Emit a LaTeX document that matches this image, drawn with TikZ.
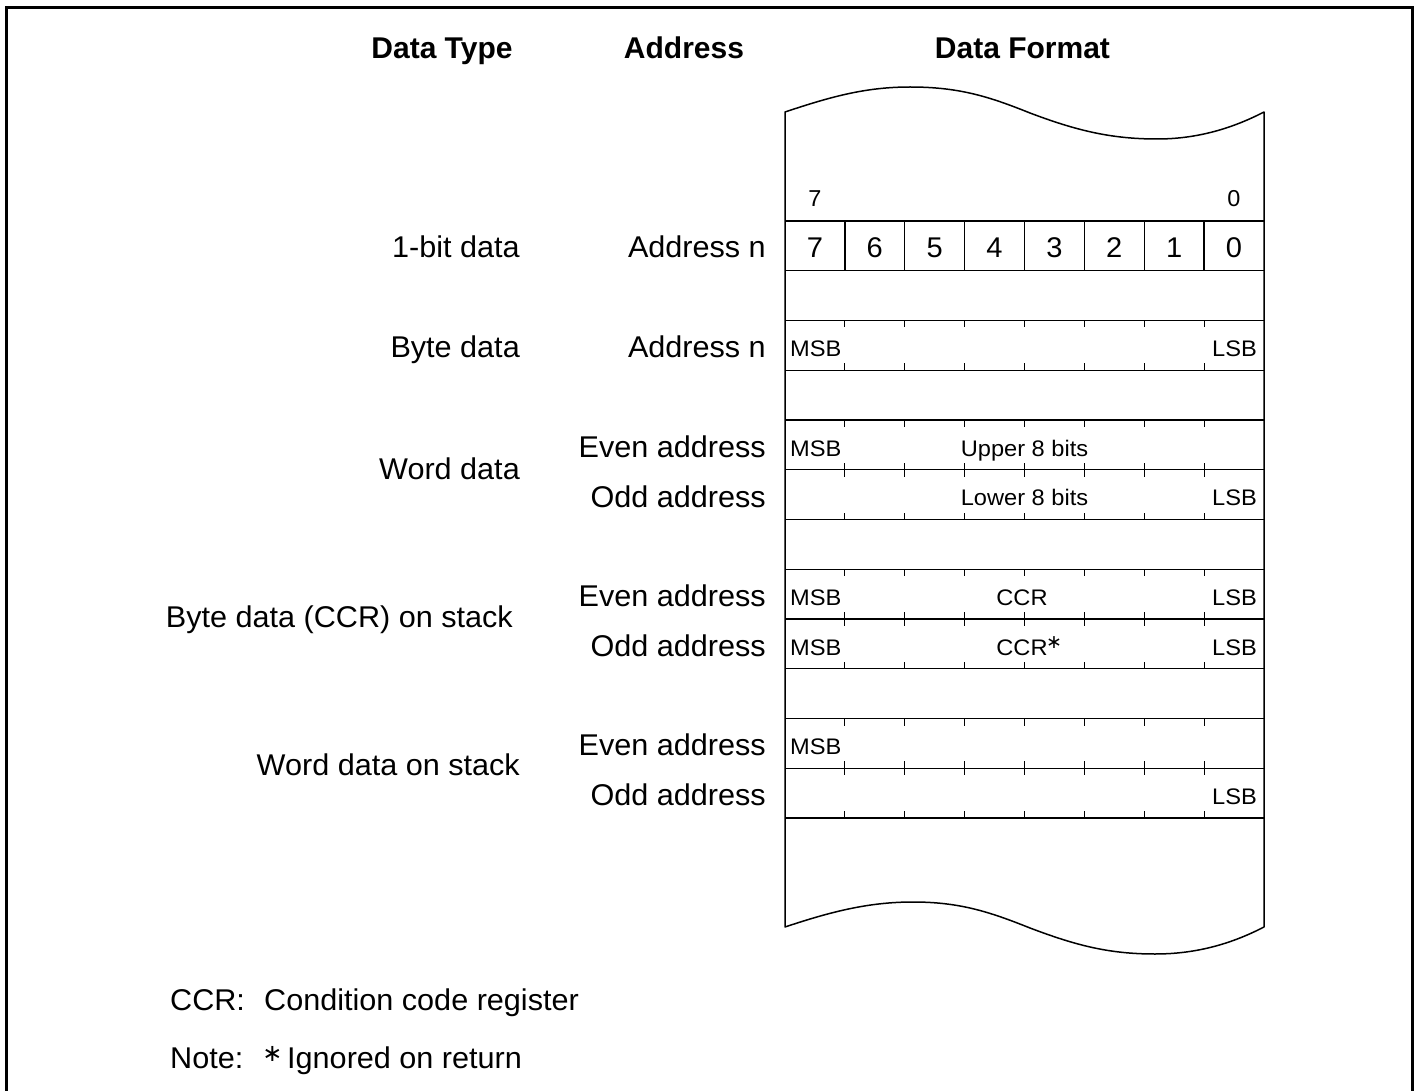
\documentclass[tikz,border=0pt]{standalone}
\usepackage{fontspec}
\setmainfont{Liberation Sans}
\newfontfamily\labfont[FakeStretch=1.02]{Liberation Sans}
\newfontfamily\smfont[FakeStretch=1.05]{Liberation Sans}
\newfontfamily\symfont{DejaVu Sans}
\begin{document}
\begin{tikzpicture}[x=1pt,y=1pt,
  hdr/.style={font=\bfseries\fontsize{30}{32}\selectfont, inner sep=0pt, anchor=base},
  lab/.style={font=\labfont\fontsize{30}{32}\selectfont, inner sep=0pt, anchor=base east},
  note/.style={font=\labfont\fontsize{30}{32}\selectfont, inner sep=0pt, anchor=base west},
  sm/.style={font=\smfont\fontsize{22.5}{24}\selectfont, inner sep=0pt},
  digit/.style={font=\labfont\fontsize{28.5}{30}\selectfont, inner sep=0pt, anchor=base},
  topdigit/.style={font=\labfont\fontsize{23}{25}\selectfont, inner sep=0pt, anchor=base},
  star/.style={font=\symfont, inner sep=0pt, anchor=center},
  frame/.style={line width=1.5pt, line join=round},
  grid/.style={line width=1.3pt},
  tickmark/.style={line width=1pt}]
\useasboundingbox (0,0) rectangle (1417,-1091);
% outer border (open at the bottom edge of the picture)
\begin{scope}
\clip (0,0) rectangle (1417,-1091);
\draw[line width=3pt] (6.5,-7.5) rectangle (1412.5,-1120);
\end{scope}

% headings
\node[hdr] (hType) at (442,-59) {Data Type};
\node[hdr] (hAddr) at (684,-59) {Address};
\node[hdr] (hFmt) at (1022.5,-59) {Data Format};

% memory strip with wavy ends
\draw[frame] (785,-927) -- (785,-112)
  .. controls (830,-97) and (865,-87) .. (910,-87)
  .. controls (960,-87) and (990,-97) .. (1030,-113)
  .. controls (1075,-130) and (1110,-139) .. (1157,-139)
  .. controls (1198,-139) and (1233,-128) .. (1264,-112)
  -- (1264,-927)
  .. controls (1233,-943) and (1198,-954) .. (1155,-954)
  .. controls (1108,-954) and (1075,-945) .. (1030,-928)
  .. controls (990,-912) and (960,-902) .. (913,-902)
  .. controls (868,-902) and (830,-912) .. (785,-927) -- cycle;

% row lines
\foreach \yy in {221,270.75,320.5,370.25,420,469.75,519.5,569.25,619,668.75,718.5,768.25,818}
  \draw[grid] (785,-\yy) -- (1264,-\yy);

% bit cells
\foreach \i in {1,...,7}
  \draw[grid] ({785+59.875*\i},-221) -- ({785+59.875*\i},-270.75);
\foreach \d [count=\i from 0] in {7,6,5,4,3,2,1,0}
  \node[digit] (bit\d) at ({785+59.875*(\i+0.5)},-258) {\d};
\node[topdigit] (msbnum) at (815,-207) {7};
\node[topdigit] (lsbnum) at (1234,-207) {0};

% tick marks in data rows
\foreach \top/\bot in {320.5/370.25,420/469.75,469.75/519.5,569.25/619,619/668.75,718.5/768.25,768.25/818}
  \foreach \i in {1,...,7}{
    \draw[tickmark] ({785+59.875*\i},-\top) -- ++(0,-7);
    \draw[tickmark] ({785+59.875*\i},-\bot) -- ++(0,7);
  }

% texts inside rows
\node[sm,anchor=base west] (m1) at (790,-356.7) {MSB};
\node[sm,anchor=base east] (l1) at (1257,-356.7) {LSB};
\node[sm,anchor=base west] (m2) at (790,-456.2) {MSB};
\node[sm,anchor=base] (up) at (1024.5,-456.2) {Upper 8 bits};
\node[sm,anchor=base] (lo) at (1024.5,-505.9) {Lower 8 bits};
\node[sm,anchor=base east] (l2) at (1257,-505.9) {LSB};
\node[sm,anchor=base west] (m3) at (790,-605.4) {MSB};
\node[sm,anchor=base] (ccr1) at (1022,-605.4) {CCR};
\node[sm,anchor=base east] (l3) at (1257,-605.4) {LSB};
\node[sm,anchor=base west] (m4) at (790,-655.2) {MSB};
\node[sm,anchor=base] (ccr2) at (1022,-655.2) {CCR};
\node[star,font=\symfont\fontsize{19}{19}\selectfont] (st1) at (1054,-643) {∗};
\node[sm,anchor=base east] (l4) at (1257,-655.2) {LSB};
\node[sm,anchor=base west] (m5) at (790,-754.7) {MSB};
\node[sm,anchor=base east] (l5) at (1257,-804.4) {LSB};

% data type labels
\node[lab] (t1) at (520,-258) {1-bit data};
\node[lab] (t2) at (520,-358) {Byte data};
\node[lab] (t3) at (520,-479) {Word data};
\node[lab] (t4) at (513,-627) {Byte data (CCR) on stack};
\node[lab] (t5) at (520,-775) {Word data on stack};

% address labels
\node[lab] (a1) at (766,-258) {Address n};
\node[lab] (a2) at (766,-358) {Address n};
\node[lab] (a3) at (766,-457.4) {Even address};
\node[lab] (a4) at (766,-507) {Odd address};
\node[lab] (a5) at (766,-606.6) {Even address};
\node[lab] (a6) at (766,-656.4) {Odd address};
\node[lab] (a7) at (766,-755.9) {Even address};
\node[lab] (a8) at (766,-805.6) {Odd address};

% notes
\node[note] (n1a) at (170,-1010) {CCR:};
\node[note] (n1b) at (264,-1010) {Condition code register};
\node[note] (n2a) at (170,-1068) {Note:};
\node[star,font=\symfont\fontsize{24}{24}\selectfont] (st2) at (272.5,-1054) {∗};
\node[note] (n2b) at (287,-1068) {Ignored on return};
\end{tikzpicture}
\end{document}
